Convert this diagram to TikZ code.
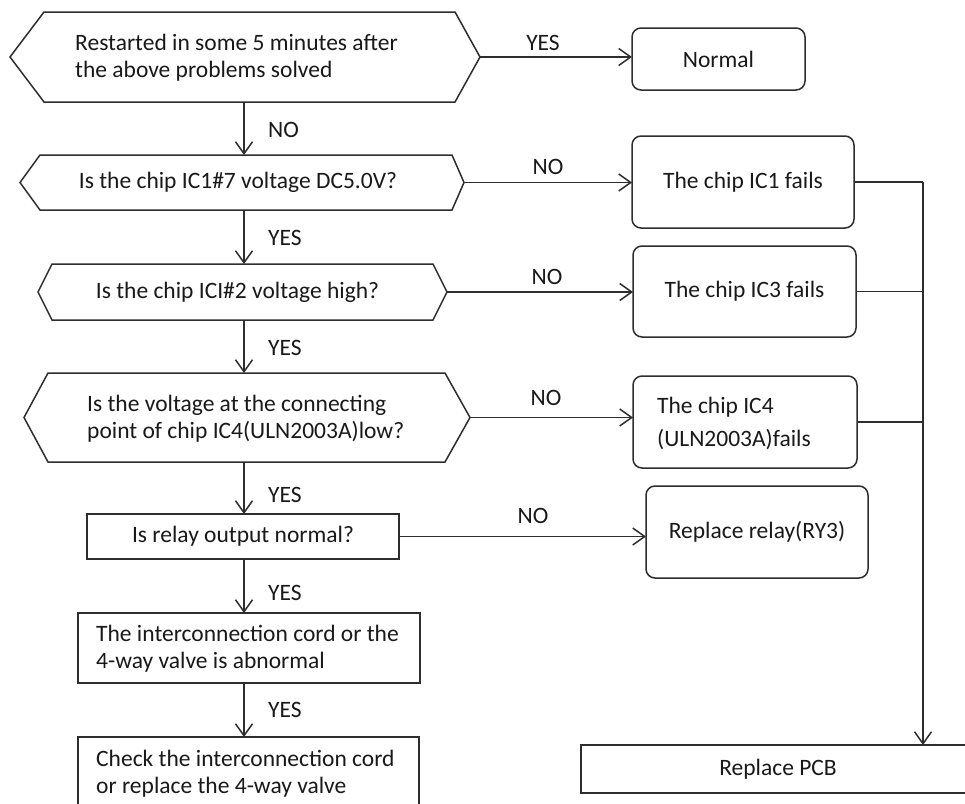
\documentclass[tikz,border=0pt]{standalone}
\usepackage{fontspec}
\setmainfont{Carlito}
\usetikzlibrary{arrows.meta}
\begin{document}
\begin{tikzpicture}[x=1pt,y=1pt,
  every node/.style={font=\fontsize{23.5}{27}\selectfont, text=black!90},
  ln/.style={draw=black!82, line width=1.5pt},
  arr/.style={ln, -{Straight Barb[length=12pt,width=17pt,line width=1.5pt]}},
  hx/.style={inner sep=0pt, outer sep=0pt},
  rbox/.style={ln, rounded corners=9pt, inner sep=0pt, outer sep=0pt, align=center},
  sbox/.style={ln, inner sep=0pt, outer sep=0pt, align=center},
  txt/.style={inner sep=0pt, align=left},
  lbl/.style={inner sep=0pt}
]
\useasboundingbox (0,0) rectangle (965,-803);
\fill[white] (0,0) rectangle (965,-803);
\clip (0,0) rectangle (965,-803);
\coordinate (sp) at (244,0);
\coordinate (bus) at (923,0);

% decision shapes
\node[hx, minimum width=411, minimum height=90] (h1) at (249.5,-57) {};
\draw[ln] (h1.north west) -- (h1.north east) -- ([xshift=25]h1.east) coordinate (h1r) -- (h1.south east) -- (h1.south west) -- ([xshift=-34]h1.west) -- cycle;
\node[txt, anchor=west] (t1) at (75,-58) {Restarted in some 5 minutes after\\the above problems solved};

\node[hx, minimum width=412, minimum height=55] (h2) at (246,-182.5) {};
\draw[ln] (h2.north west) -- (h2.north east) -- ([xshift=12]h2.east) coordinate (h2r) -- (h2.south east) -- (h2.south west) -- ([xshift=-20]h2.west) -- cycle;
\node[txt] (t2) at (238,-182.5) {Is the chip IC1\#7 voltage DC5.0V?};

\node[hx, minimum width=381, minimum height=56] (h3) at (242.5,-292) {};
\draw[ln] (h3.north west) -- (h3.north east) -- ([xshift=14]h3.east) coordinate (h3r) -- (h3.south east) -- (h3.south west) -- ([xshift=-14]h3.west) -- cycle;
\node[txt] (t3) at (237.5,-292) {Is the chip ICI\#2 voltage high?};

\node[hx, minimum width=397, minimum height=89] (h4) at (246.5,-417.5) {};
\draw[ln] (h4.north west) -- (h4.north east) -- ([xshift=25]h4.east) coordinate (h4r) -- (h4.south east) -- (h4.south west) -- ([xshift=-24]h4.west) -- cycle;
\node[txt, anchor=west] (t4) at (87,-418.5) {Is the voltage at the connecting\\point of chip IC4(ULN2003A)low?};

% left column boxes
\node[sbox, minimum width=312, minimum height=45] (rel) at (243,-536.5) {Is relay output normal?};
\node[sbox, minimum width=342, minimum height=70] (ic) at (249,-648) {};
\node[txt, anchor=west] (t5) at (96,-648.5) {The interconnection cord or the\\4-way valve is abnormal};
\node[sbox, minimum width=341, minimum height=74] (chk) at (248.5,-774) {};
\node[txt, anchor=west] (t6) at (96,-773.5) {Check the interconnection cord\\or replace the 4-way valve};

% right column boxes
\node[rbox, minimum width=173, minimum height=62] (nrm) at (718.5,-59) {Normal};
\node[rbox, minimum width=222, minimum height=92] (ic1) at (743,-182) {The chip IC1 fails};
\node[rbox, minimum width=223, minimum height=91] (ic3) at (744.5,-291.5) {The chip IC3 fails};
\node[rbox, minimum width=224, minimum height=92] (ic4) at (745,-422) {};
\node[txt, anchor=west, font=\fontsize{23.5}{33}\selectfont] (t7) at (657,-423.5) {The chip IC4\\(ULN2003A)fails};
\node[rbox, minimum width=222, minimum height=92] (ry3) at (757,-532) {Replace relay(RY3)};
\node[sbox, minimum width=394, minimum height=48] (pcb) at (778,-769) {Replace PCB};

% vertical connectors
\draw[arr] (h1.south -| sp) -- (h2.north -| sp);
\draw[arr] (h2.south -| sp) -- (h3.north -| sp);
\draw[arr] (h3.south -| sp) -- (h4.north -| sp);
\draw[arr] (h4.south -| sp) -- (rel.north -| sp);
\draw[arr] (rel.south -| sp) -- (ic.north -| sp);
\draw[arr] (ic.south -| sp) -- (chk.north -| sp);

% horizontal connectors
\draw[arr] (h1r) -- (h1r -| nrm.west);
\draw[arr] (h2r) -- (h2r -| ic1.west);
\draw[arr] (h3r) -- (h3r -| ic3.west);
\draw[arr] (h4r) -- (h4r -| ic4.west);
\draw[arr] (rel.east) -- (rel.east -| ry3.west);

% bus to PCB
\draw[ln] (ic1.east) -- (ic1.east -| bus);
\draw[ln] (ic3.east) -- (ic3.east -| bus);
\draw[ln] (ic4.east) -- (ic4.east -| bus);
\draw[arr] (ic1.east -| bus) -- (pcb.north -| bus);

% labels
\node[lbl] (l1) at (543,-43) {YES};
\node[lbl] (l2) at (548,-167) {NO};
\node[lbl] (l3) at (547,-277) {NO};
\node[lbl] (l4) at (546,-398) {NO};
\node[lbl] (l5) at (533,-516) {NO};
\node[lbl, anchor=west] (v1) at (268,-130) {NO};
\node[lbl, anchor=west] (v2) at (268,-238) {YES};
\node[lbl, anchor=west] (v3) at (268,-348) {YES};
\node[lbl, anchor=west] (v4) at (268,-495) {YES};
\node[lbl, anchor=west] (v5) at (268,-593) {YES};
\node[lbl, anchor=west] (v6) at (268,-710) {YES};
\end{tikzpicture}
\end{document}
